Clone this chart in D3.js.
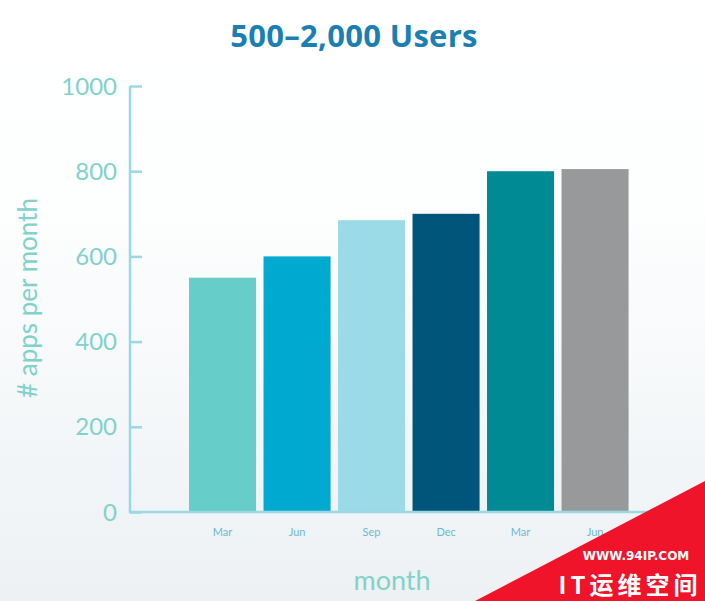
<!DOCTYPE html>
<html><head><meta charset="utf-8">
<script src="https://cdn.jsdelivr.net/npm/d3@7"></script>
<style>html,body{margin:0;padding:0;}svg{display:block;}</style>
</head><body>
<script>
const categories = ["Mar","Jun","Sep","Dec","Mar ","Jun "];
const values = [550, 600, 685, 700, 800, 805];
const colors = ["#66cdc8","#00a9d0","#9bdbe7","#00567a","#008a93","#98999b"];
const yTicks = [0,200,400,600,800,1000];

const W=705,H=601;
const svg=d3.select("body").append("svg").attr("width",W).attr("height",H);
const defs=svg.append("defs");
const g=defs.append("linearGradient").attr("id","bg").attr("x1",0).attr("y1",0).attr("x2",0).attr("y2",1);
g.append("stop").attr("offset","0").attr("stop-color","#ffffff");
g.append("stop").attr("offset","0.35").attr("stop-color","#fdfefe");
g.append("stop").attr("offset","1").attr("stop-color","#edf1f4");
svg.append("rect").attr("width",W).attr("height",H).attr("fill","url(#bg)");

const x=d3.scaleBand().domain(categories).range([185.3,632.3]).paddingInner(0.1).paddingOuter(0.05);
const y=d3.scaleLinear().domain([0,1000]).range([512,86]);
const axisColor="#9ad8e3", tickText="#80d2ca";

svg.selectAll("rect.bar").data(values).join("rect").attr("class","bar")
  .attr("x",(d,i)=>x(categories[i])).attr("width",x.bandwidth())
  .attr("y",d=>y(d)).attr("height",d=>y(0)-y(d)).attr("fill",(d,i)=>colors[i]);

// y axis
const ya=svg.append("g").attr("transform","translate(130,0)")
  .call(d3.axisRight(y).tickValues(yTicks).tickSize(12).tickFormat(""));
ya.select(".domain").remove();
ya.selectAll("line").attr("stroke",axisColor).attr("stroke-width",2.5);
svg.append("line").attr("x1",130).attr("x2",130).attr("y1",y(1000)).attr("y2",y(0)+1)
  .attr("stroke",axisColor).attr("stroke-width",2.5);
svg.selectAll("text.yt").data(yTicks).join("text").attr("class","yt")
  .attr("x",117).attr("y",d=>y(d)).attr("dy","0.36em").attr("text-anchor","end")
  .attr("font-family","Lato, sans-serif").attr("font-size",24).attr("fill",tickText)
  .text(d=>d);

// x axis
svg.append("line").attr("x1",129).attr("x2",655).attr("y1",y(0)).attr("y2",y(0))
  .attr("stroke",axisColor).attr("stroke-width",2.5);
const xa=svg.append("g").attr("transform",`translate(0,${y(0)})`)
  .call(d3.axisBottom(x).tickSize(0).tickPadding(16));
xa.select(".domain").remove();
xa.selectAll("text").attr("font-family","Lato, sans-serif").attr("font-size",11)
  .attr("fill","#6cb9d3");

// titles
svg.append("text").attr("x",354).attr("y",47).attr("text-anchor","middle")
  .attr("font-family","'Open Sans', sans-serif").attr("font-weight","bold").attr("font-size",31)
  .attr("letter-spacing",0.3).attr("fill","#1a80b3").text("500–2,000 Users");
svg.append("text").attr("x",392).attr("y",590).attr("text-anchor","middle")
  .attr("font-family","Lato, sans-serif").attr("font-size",27).attr("fill",tickText).text("month");
svg.append("text").attr("transform","translate(37,298) rotate(-90)").attr("text-anchor","middle")
  .attr("font-family","Lato, sans-serif").attr("font-size",26).attr("fill",tickText).text("# apps per month");

// watermark
const wm=svg.append("g");
wm.append("path").attr("d",`M475,601 L705,481 L705,601 Z`).attr("fill","#f0142a");
wm.append("text").attr("x",636).attr("y",560).attr("text-anchor","middle")
  .attr("font-family","DejaVu Sans, sans-serif").attr("font-weight","bold").attr("font-size",12)
  .attr("fill","#ffffff").text("WWW.94IP.COM");
wm.append("text").attr("x",630).attr("y",594).attr("text-anchor","middle")
  .attr("font-family","Noto Sans CJK SC, sans-serif").attr("font-weight","bold").attr("font-size",24)
  .attr("letter-spacing",4).attr("fill","#ffffff").text("IT运维空间");
</script>
</body></html>
